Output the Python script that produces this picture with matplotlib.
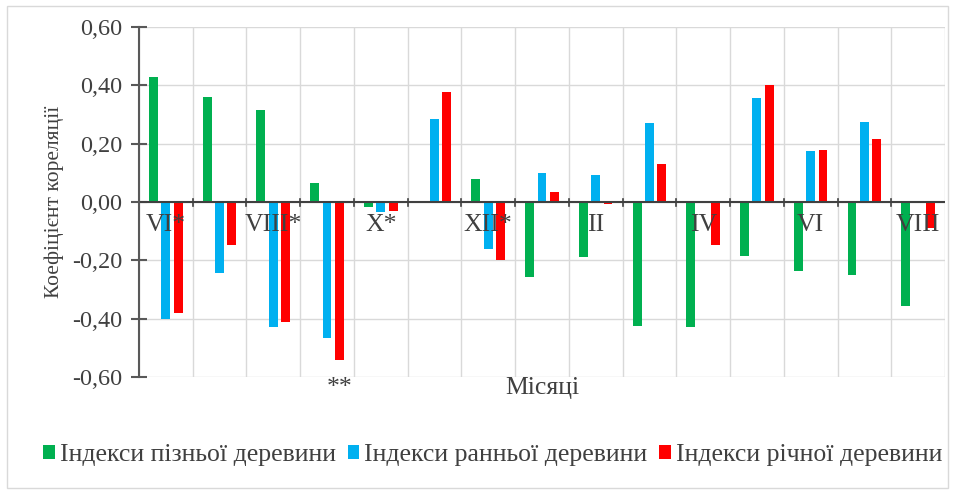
"""Коефіцієнти кореляції індексів деревини з кліматом по місяцях."""
import matplotlib
import numpy as np

matplotlib.use("Agg")
import matplotlib.pyplot as plt  # noqa: E402
from matplotlib.patches import Rectangle  # noqa: E402

# --- Дані ---
months = ["VI*", "VII", "VIII*", "IX", "X*", "XI", "XII*", "I", "II", "III",
          "IV", "V", "VI", "VII", "VIII"]
late_wood = [0.43, 0.36, 0.315, 0.065, -0.018, 0.0, 0.078, -0.257, -0.188,
             -0.425, -0.43, -0.185, -0.236, -0.25, -0.357]
early_wood = [-0.40, -0.245, -0.43, -0.465, -0.035, 0.285, -0.16, 0.098, 0.092,
              0.27, 0.005, 0.357, 0.175, 0.275, 0.0]
ring_wood = [-0.38, -0.147, -0.41, -0.54, -0.03, 0.377, -0.20, 0.033, -0.005,
             0.13, -0.147, 0.40, 0.18, 0.215, -0.09]
series_labels = ["Індекси пізньої деревини", "Індекси ранньої деревини",
                 "Індекси річної деревини"]
yticks = [-0.6, -0.4, -0.2, 0.0, 0.2, 0.4, 0.6]

GREEN = "#00b050"
BLUE = "#00b0f0"
RED = "#ff0000"
INK = "#404040"
GRID = "#d9d9d9"
SERIF = ["Liberation Serif"]
FS = 18.5  # горизонтальні підписи (оригінал трохи розтягнутий по ширині)

plt.rcParams.update({
    "font.family": SERIF,
    "text.color": INK,
})

fig = plt.figure(figsize=(9.55, 4.93), dpi=100)
ax = fig.add_axes([0.1455, 0.2353, 0.844, 0.7097])

x = np.arange(len(months))
step, width = 0.23, 0.165
ax.bar(x - step, late_wood, width, color=GREEN, label=series_labels[0], zorder=3)
ax.bar(x, early_wood, width, color=BLUE, label=series_labels[1], zorder=3)
ax.bar(x + step, ring_wood, width, color=RED, label=series_labels[2], zorder=3)

ax.set_xlim(-0.5, len(months) - 0.5)
ax.set_ylim(-0.6, 0.6)
ax.set_yticks(yticks)
ax.set_yticklabels([f"{v:.2f}".replace(".", ",") for v in yticks],
                   fontsize=17.5, family=SERIF)

# сітка: горизонтальні лінії та межі категорій
for v in yticks:
    ax.axhline(v, color=GRID, linewidth=1, zorder=1)
for b in np.arange(-0.5, len(months), 1.0):
    ax.axvline(b, color=GRID, linewidth=1, zorder=1)

for side in ("top", "right", "bottom"):
    ax.spines[side].set_visible(False)
ax.spines["left"].set_color("#595959")
ax.spines["left"].set_linewidth(1.5)
ax.spines["left"].set_zorder(4)
ax.axhline(0, color="#404040", linewidth=1.5, zorder=4)
ax.tick_params(axis="y", length=12, width=1.5, color="#595959", direction="inout",
               labelcolor=INK, pad=6)
ax.set_xticks([])

# вісь категорій на нульовій лінії
for b in np.arange(0.5, len(months) - 0.5, 1.0):
    ax.plot([b, b], [-0.012, 0.012], color="#404040", linewidth=1.2, zorder=4)
for i in range(0, len(months), 2):
    ax.text(i, -0.04, months[i], ha="center", va="top", fontsize=FS,
            family=SERIF, color=INK, zorder=5)

ax.text(3 + step, -0.6, "**", ha="center", va="top", fontsize=FS,
        family=SERIF, color=INK)

ax.set_xlabel("Місяці", fontsize=FS, family=SERIF, color=INK, labelpad=0)
ax.set_ylabel("Коефіцієнт кореляції", fontsize=15.5, family=SERIF, color=INK,
              labelpad=6)

fig.legend(loc="center", bbox_to_anchor=(0.516, 0.077), ncol=3, frameon=False,
           prop={"family": SERIF, "size": FS}, handlelength=0.45,
           handleheight=0.45, handletextpad=0.2, columnspacing=0.45)

fig.patches.append(Rectangle((0.007, 0.01), 0.986, 0.978, transform=fig.transFigure,
                             fill=False, edgecolor="#d9d9d9", linewidth=1))

fig.savefig("out.png", dpi=100)
